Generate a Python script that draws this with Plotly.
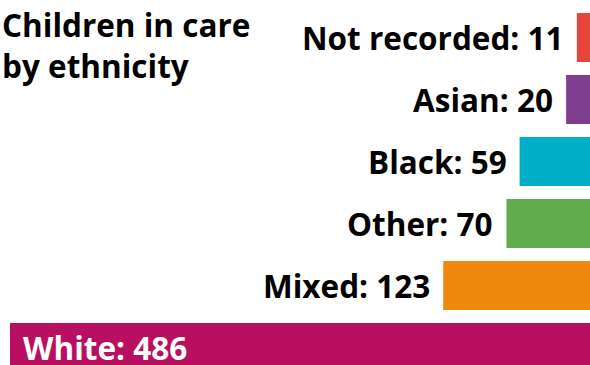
import plotly.graph_objects as go

# Children in care, by ethnicity
categories = ["Not recorded", "Asian", "Black", "Other", "Mixed", "White"]
counts = [11, 20, 59, 70, 123, 486]
colors = ["#E8453C", "#7F3D8F", "#00AEC7", "#62AD4E", "#F0880F", "#B80F61"]
title_text = "Children in care<br>by ethnicity"

FONT = "Open Sans"
FS = 31.5
W, H = 590, 365

fig = go.Figure(
    go.Bar(
        x=counts,
        y=categories,
        orientation="h",
        marker=dict(color=colors, line=dict(width=0)),
        width=0.79,
        hoverinfo="skip",
    )
)

# Value labels: outside (left of) the bar, except the largest one which sits inside
max_val = max(counts)
for cat, val in zip(categories, counts):
    label = f"{cat}: {val}"
    if val == max_val:
        fig.add_annotation(
            x=val, y=cat, xref="x", yref="y", text=label, showarrow=False,
            xanchor="left", yanchor="middle", xshift=11, yshift=0,
            font=dict(family=FONT, size=FS, color="white", weight="bold"),
        )
    else:
        fig.add_annotation(
            x=val, y=cat, xref="x", yref="y", text=label, showarrow=False,
            xanchor="right", yanchor="middle", xshift=-11, yshift=0,
            font=dict(family=FONT, size=FS, color="black", weight="bold"),
        )

# Two-line heading, top-left
fig.add_annotation(
    x=-10 / 580, y=1 - 45.5 / H, xref="paper", yref="paper",
    text=title_text, showarrow=False, xanchor="left", yanchor="middle",
    align="left",
    font=dict(family=FONT, size=FS, color="black", weight="bold"),
)

pitch = 62.0
first_center = 37.5
fig.update_layout(
    width=W, height=H,
    margin=dict(l=10, r=0, t=0, b=0),
    paper_bgcolor="white", plot_bgcolor="white",
    showlegend=False,
    xaxis=dict(range=[max_val, 0], visible=False, fixedrange=True),
    yaxis=dict(
        type="category",
        categoryorder="array", categoryarray=categories,
        range=[(H - first_center) / pitch, -first_center / pitch],
        visible=False, fixedrange=True,
    ),
)

fig.write_html("out.html", config={"displayModeBar": False})
